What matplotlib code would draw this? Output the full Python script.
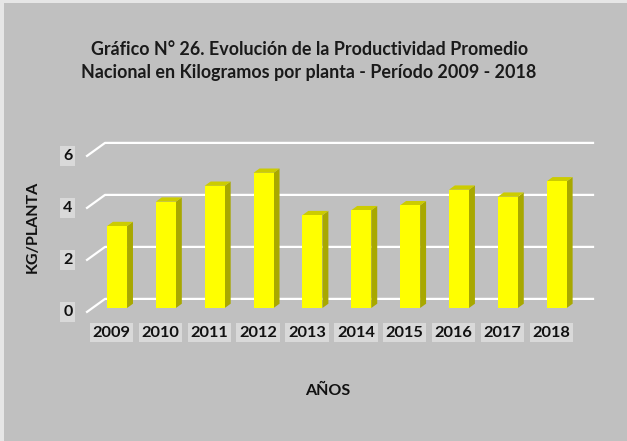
import numpy as np
import matplotlib.pyplot as plt
from matplotlib.patches import Polygon, Rectangle

# Datos
anios = ["2009", "2010", "2011", "2012", "2013", "2014", "2015", "2016", "2017", "2018"]
kg_planta = [3.15, 4.09, 4.70, 5.20, 3.57, 3.76, 3.95, 4.55, 4.28, 4.87]
yticks = [0, 2, 4, 6]

titulo = "Gráfico N° 26. Evolución de la Productividad Promedio\nNacional en Kilogramos por planta - Período 2009 - 2018"

plt.rcParams['font.family'] = ['Lato', 'DejaVu Sans']
plt.rcParams['font.weight'] = 'bold'

fondo = "#c0c0c0"
amarillo = "#ffff00"
lado = "#a8a800"
tapa = "#cccc00"
caja = "#d9d9d9"

fig = plt.figure(figsize=(6.27, 4.41), dpi=100, facecolor=fondo)
# marco claro arriba e izquierda
fig.patches.append(Rectangle((0, 1 - 3 / 441), 1, 3 / 441, transform=fig.transFigure,
                             facecolor="#e6e6e6", edgecolor="none"))
fig.patches.append(Rectangle((0, 0), 4 / 627, 1, transform=fig.transFigure,
                             facecolor="#e6e6e6", edgecolor="none"))

ax = fig.add_axes([0.1399, 0.2721, 0.7947, 0.4186])
ax.set_xlim(-0.6, 9.6)
ax.set_ylim(-0.5, 6.6)
ax.axis("off")

# profundidad (pseudo 3D)
ddx, ddy = 0.368, 0.5
prof_frente, prof_fondo, prof_barra = -0.3, 0.7, 0.33
x_izq, x_der = -0.614, 9.376

for v in yticks:
    xs = [x_izq, x_izq + ddx, x_der + ddx]
    ys = [v + prof_frente * ddy, v + prof_fondo * ddy, v + prof_fondo * ddy]
    ax.plot(xs, ys, color="white", lw=1.6, zorder=1, clip_on=False)
    ax.text(x_izq - 0.3, v + prof_frente * ddy, str(v), ha="right", va="center",
            fontsize=11.5, fontweight="bold", color="#111111",
            bbox=dict(facecolor=caja, edgecolor="none", pad=2))

x = np.arange(len(anios))
w = 0.41
ax.bar(x, kg_planta, width=w, color=amarillo, zorder=3)
for xi, v in zip(x, kg_planta):
    sx, sy = ddx * prof_barra, ddy * prof_barra
    ax.add_patch(Polygon([(xi + w / 2, 0), (xi + w / 2 + sx, sy),
                          (xi + w / 2 + sx, v + sy), (xi + w / 2, v)],
                         closed=True, facecolor=lado, edgecolor="none", zorder=2))
    ax.add_patch(Polygon([(xi - w / 2, v), (xi + w / 2, v),
                          (xi + w / 2 + sx, v + sy), (xi - w / 2 + sx, v + sy)],
                         closed=True, facecolor=tapa, edgecolor="none", zorder=2))

for xi, lab in zip(x, anios):
    ax.text(xi + prof_frente * ddx, -0.95, lab, ha="center", va="center",
            fontsize=11.8, fontweight="bold", color="#111111",
            bbox=dict(facecolor=caja, edgecolor="none", pad=2))

fig.text(0.493, 0.862, titulo, ha="center", va="center", fontsize=12.9,
         fontweight="bold", linespacing=1.45, color="#1a1a1a")
fig.text(0.523, 0.113, "AÑOS", ha="center", va="center", fontsize=11.5,
         fontweight="bold", color="#111111")
fig.text(0.053, 0.485, "KG/PLANTA", ha="center", va="center", rotation=90,
         fontsize=11.5, fontweight="bold", color="#111111")

fig.savefig("out.png", dpi=100, facecolor=fondo)
